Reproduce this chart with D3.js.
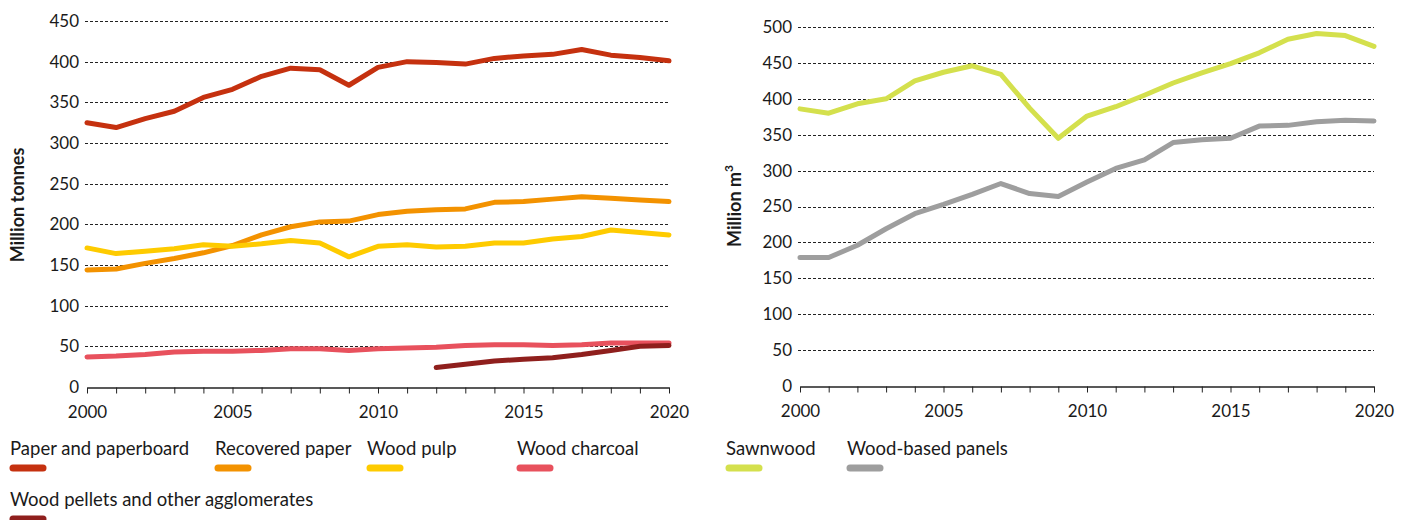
<!DOCTYPE html>
<html>
<head>
<meta charset="utf-8">
<script src="https://cdn.jsdelivr.net/npm/d3@7"></script>
<style>
  html, body { margin: 0; padding: 0; background: #fff; }
  svg { display: block; font-family: Lato, "Open Sans", sans-serif; }
</style>
</head>
<body>
<svg id="chart" width="1409" height="520"></svg>
<script>
// ---------- DATA ----------
const years = d3.range(2000, 2021);
const pelletYears = d3.range(2012, 2021);

const paperAndPaperboard = [325, 319, 330, 339, 356, 366, 382, 392, 390, 371, 393, 400, 399, 397, 404, 407, 409, 415, 408, 405, 401];
const recoveredPaper     = [144, 145, 152, 158, 165, 174, 187, 197, 203, 204, 212, 216, 218, 219, 227, 228, 231, 234, 232, 230, 228];
const woodPulp           = [171, 164, 167, 170, 175, 173, 176, 180, 177, 160, 173, 175, 172, 173, 177, 177, 182, 185, 193, 190, 187];
const woodCharcoal       = [37, 38, 40, 43, 44, 44, 45, 47, 47, 45, 47, 48, 49, 51, 52, 52, 51, 52, 54, 54, 54];
const woodPellets        = [24, 28, 32, 34, 36, 40, 45, 50, 51];

const sawnwood           = [386, 380, 393, 400, 425, 437, 446, 434, 387, 345, 376, 389, 405, 422, 436, 449, 464, 483, 491, 488, 473];
const woodBasedPanels    = [179, 179, 196, 219, 240, 253, 267, 282, 268, 264, 284, 303, 315, 339, 343, 345, 362, 363, 368, 370, 369];

const leftTicks  = [0, 50, 100, 150, 200, 250, 300, 350, 400, 450];
const rightTicks = [0, 50, 100, 150, 200, 250, 300, 350, 400, 450, 500];
const xTickLabels = [2000, 2005, 2010, 2015, 2020];

const leftSeries = [
  { name: "Paper and paperboard", x: years, y: paperAndPaperboard, color: "#c5310f" },
  { name: "Recovered paper", x: years, y: recoveredPaper, color: "#f39200" },
  { name: "Wood pulp", x: years, y: woodPulp, color: "#fecb00" },
  { name: "Wood charcoal", x: years, y: woodCharcoal, color: "#e8515d" },
  { name: "Wood pellets and other agglomerates", x: pelletYears, y: woodPellets, color: "#8f1f1d" }
];
const rightSeries = [
  { name: "Sawnwood", x: years, y: sawnwood, color: "#d4e04d" },
  { name: "Wood-based panels", x: years, y: woodBasedPanels, color: "#9e9e9e" }
];

// ---------- DRAW ----------
const svg = d3.select("#chart");

function panel(cfg) {
  const g = svg.append("g");
  const x = d3.scaleLinear().domain([2000, 2020]).range([cfg.x0, cfg.x1]);
  const y = d3.scaleLinear().domain([0, cfg.yMax]).range([cfg.y0, cfg.y1]);

  // gridlines (dashed)
  g.append("g").selectAll("line")
    .data(cfg.ticks.filter(t => t > 0))
    .join("line")
    .attr("x1", cfg.x0 - 2).attr("x2", cfg.x1)
    .attr("y1", d => Math.round(y(d)) + 0.5).attr("y2", d => Math.round(y(d)) + 0.5)
    .attr("stroke", "#222").attr("stroke-width", 1)
    .attr("stroke-dasharray", "3,2");

  // y axis labels
  const yAxis = d3.axisLeft(y).tickValues(cfg.ticks).tickSize(0).tickPadding(0);
  const ya = g.append("g").attr("transform", `translate(${cfg.x0 - 8},0)`).call(yAxis);
  ya.select(".domain").remove();
  ya.selectAll("text").attr("font-size", 17).attr("fill", "#1a1a1a")
    .attr("font-family", "Lato, sans-serif");

  // x axis
  const xAxis = d3.axisBottom(x).tickValues(years).tickSize(6).tickSizeOuter(0)
    .tickFormat(d => xTickLabels.includes(d) ? String(d) : "");
  const xa = g.append("g").attr("transform", `translate(0,${Math.round(cfg.y0) + 0.5})`).call(xAxis);
  xa.select(".domain").attr("stroke", "#222").attr("stroke-width", 1.3);
  xa.selectAll(".tick line").attr("stroke", "#222");
  xa.selectAll("text").attr("font-size", 17).attr("fill", "#1a1a1a")
    .attr("font-family", "Lato, sans-serif").attr("dy", "1.25em");

  // y title
  const yt = g.append("text")
    .attr("transform", `translate(${cfg.titleX},${cfg.titleY}) rotate(-90)`)
    .attr("text-anchor", "middle")
    .attr("font-size", 18).attr("font-weight", "bold").attr("fill", "#1a1a1a")
    .attr("font-family", "Lato, sans-serif");
  yt.append("tspan").text(cfg.title);
  if (cfg.sup) yt.append("tspan").attr("dy", -8).attr("font-size", 12).text(cfg.sup);

  // lines
  const line = d3.line().x(d => x(d[0])).y(d => y(d[1]));
  g.append("g").selectAll("path")
    .data(cfg.series)
    .join("path")
    .attr("d", s => line(s.x.map((yr, i) => [yr, s.y[i]])))
    .attr("fill", "none")
    .attr("stroke", s => s.color)
    .attr("stroke-width", 5)
    .attr("stroke-linejoin", "round")
    .attr("stroke-linecap", "round");

  // legend
  const lg = g.append("g").selectAll("g")
    .data(cfg.series.map((s, i) => ({ ...s, lx: cfg.legend[i][0], ly: cfg.legend[i][1] })))
    .join("g")
    .attr("transform", d => `translate(${d.lx},${d.ly})`);
  lg.append("text").text(d => d.name)
    .attr("font-size", 18.5).attr("fill", "#1a1a1a")
    .attr("font-family", "Lato, sans-serif");
  lg.append("line")
    .attr("x1", 3).attr("x2", 33).attr("y1", 13).attr("y2", 13)
    .attr("stroke", d => d.color).attr("stroke-width", 7).attr("stroke-linecap", "round");
}

panel({
  x0: 87, x1: 669, y0: 387, y1: 21, yMax: 450,
  ticks: leftTicks, series: leftSeries,
  title: "Million tonnes", titleX: 24, titleY: 205,
  legend: [[10, 455], [215, 455], [367, 455], [517, 455], [10, 506]]
});

panel({
  x0: 800, x1: 1374, y0: 386, y1: 27, yMax: 500,
  ticks: rightTicks, series: rightSeries,
  title: "Million m", sup: "3", titleX: 741, titleY: 206,
  legend: [[726, 455], [847, 455]]
});
</script>
</body>
</html>
